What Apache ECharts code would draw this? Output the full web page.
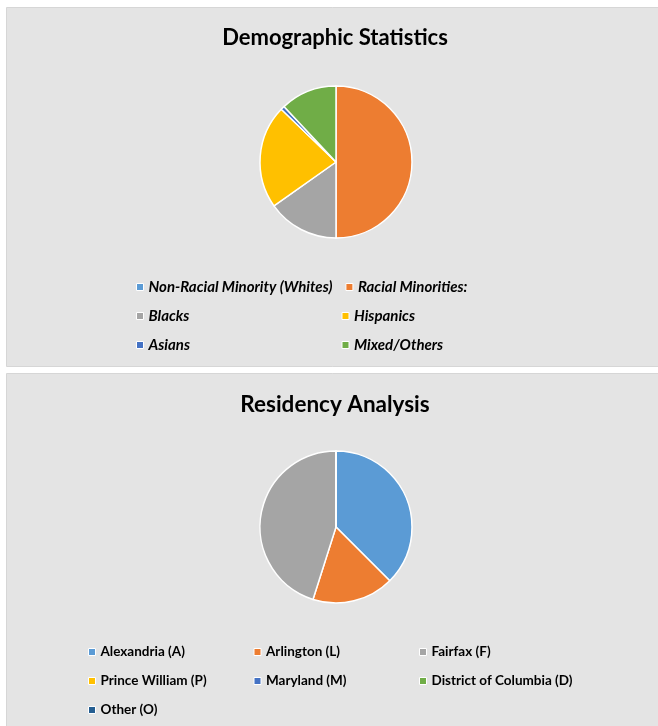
<!DOCTYPE html>
<html>
<head>
<meta charset="utf-8">
<script src="https://cdn.jsdelivr.net/npm/echarts@6/dist/echarts.min.js"></script>
<style>
  html, body { margin: 0; padding: 0; background: #fff; }
  #chart { width: 658px; height: 726px; }
</style>
</head>
<body>
<div id="chart"></div>
<script>
// demographic pie (share of sample, %)
var demoNames = ['Non-Racial Minority (Whites)', 'Racial Minorities:', 'Blacks', 'Hispanics', 'Asians', 'Mixed/Others']
var demoValues = [0, 50, 15.2, 22, 0.8, 12.0]
var demoColors = ['#5B9BD5', '#ED7D31', '#A5A5A5', '#FFC000', '#4472C4', '#70AD47']

// residency pie (%)
var resNames = ['Alexandria (A)', 'Arlington (L)', 'Fairfax (F)', 'Prince William (P)', 'Maryland (M)', 'District of Columbia (D)', 'Other (O)']
var resValues = [37.5, 17.4, 45.1, 0, 0, 0, 0]
var resColors = ['#5B9BD5', '#ED7D31', '#A5A5A5', '#FFC000', '#4472C4', '#70AD47', '#255E91']

var FONT = 'Lato'

function toData(names, values, colors) {
  return names.map(function (n, i) {
    return { name: n, value: values[i], itemStyle: { color: colors[i] } }
  })
}

function rowLegend(names, left, top, textWidth, gap, italic, size) {
  return {
    data: names,
    left: left,
    top: top,
    padding: 0,
    orient: 'horizontal',
    icon: 'rect',
    itemWidth: 7,
    itemHeight: 7,
    itemGap: gap,
    selectedMode: false,
    itemStyle: { borderColor: '#fff', borderWidth: 1 },
    textStyle: {
      fontFamily: FONT,
      fontSize: size,
      fontWeight: 'bold',
      fontStyle: italic ? 'italic' : 'normal',
      color: '#000',
      width: textWidth,
      lineHeight: 16
    }
  }
}

var chart = echarts.init(document.getElementById('chart'))
chart.setOption({
  animation: false,
  backgroundColor: '#fff',
  graphic: [
    { type: 'rect', z: -10, shape: { x: 6.5, y: 7.5, width: 660, height: 359 },
      style: { fill: '#e4e4e4', stroke: '#d6d6d6', lineWidth: 1 } },
    { type: 'rect', z: -10, shape: { x: 6.5, y: 373.5, width: 660, height: 360 },
      style: { fill: '#e4e4e4', stroke: '#d6d6d6', lineWidth: 1 } }
  ],
  title: [
    { text: 'Demographic Statistics', left: 330, top: 22, textAlign: 'center',
      textStyle: { fontFamily: FONT, fontSize: 22, fontWeight: 'bold', color: '#000' } },
    { text: 'Residency Analysis', left: 330, top: 388, textAlign: 'center',
      textStyle: { fontFamily: FONT, fontSize: 22.5, fontWeight: 'bold', color: '#000' } }
  ],
  legend: [
    rowLegend(demoNames.slice(0, 2), 136, 279, 180, 13, true, 15),
    rowLegend(demoNames.slice(2, 4), 136, 308, 180, 13, true, 15),
    rowLegend(demoNames.slice(4, 6), 136, 337, 180, 13, true, 15),
    rowLegend(resNames.slice(0, 3), 88, 644, 147, 6, false, 13.5),
    rowLegend(resNames.slice(3, 6), 88, 673, 147, 6, false, 13.5),
    rowLegend(resNames.slice(6, 7), 88, 702, 147, 6, false, 13.5)
  ],
  series: [
    {
      name: 'Demographic Statistics',
      type: 'pie',
      center: [336, 162],
      radius: 76,
      startAngle: 90,
      clockwise: true,
      label: { show: false },
      labelLine: { show: false },
      emphasis: { disabled: true },
      itemStyle: { borderColor: '#fff', borderWidth: 1.5 },
      data: toData(demoNames, demoValues, demoColors)
    },
    {
      name: 'Residency Analysis',
      type: 'pie',
      center: [336, 527],
      radius: 76,
      startAngle: 90,
      clockwise: true,
      label: { show: false },
      labelLine: { show: false },
      emphasis: { disabled: true },
      itemStyle: { borderColor: '#fff', borderWidth: 1.5 },
      data: toData(resNames, resValues, resColors)
    }
  ]
})
</script>
</body>
</html>
